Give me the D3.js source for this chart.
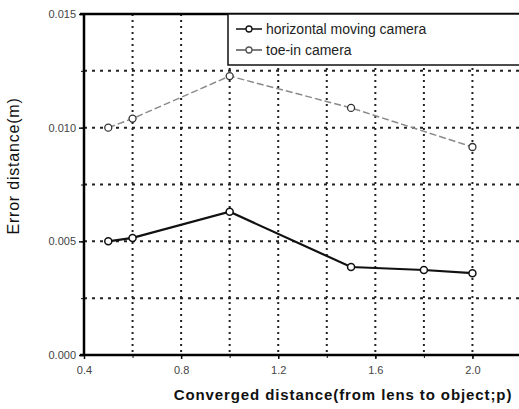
<!DOCTYPE html>
<html>
<head>
<meta charset="utf-8">
<script src="https://cdn.jsdelivr.net/npm/d3@7"></script>
<style>
body { margin: 0; background: #fff; }
text { font-family: "Liberation Sans", Arial, sans-serif; }
</style>
</head>
<body>
<script>
// values
var seriesNames = ["horizontal moving camera", "toe-in camera"];
var movingX = [0.5, 0.6, 1.0, 1.5, 1.8, 2.0];
var movingY = [0.0050, 0.00515, 0.0063, 0.00387, 0.00374, 0.0036];
var toeX = [0.5, 0.6, 1.0, 1.5, 2.0];
var toeY = [0.0100, 0.0104, 0.01227, 0.01087, 0.00915];
var xTicks = [0.4, 0.8, 1.2, 1.6, 2.0];
var xGrid = [0.6, 0.8, 1.0, 1.2, 1.4, 1.6, 1.8, 2.0, 2.2];
var yTicks = [0, 0.005, 0.010, 0.015];
var yGrid = [0.0025, 0.005, 0.0075, 0.010, 0.0125];

var w = 519, h = 409;
var pLeft = 84, pTop = 14, pBottom = 355, pRight = 521;

var svg = d3.select("body")
    .append("svg")
    .attr("width", w)
    .attr("height", h);

var xScale = d3.scaleLinear()
    .domain([0.4, 2.2])
    .range([pLeft, pRight]);

var yScale = d3.scaleLinear()
    .domain([0, 0.015])
    .range([pBottom, pTop]);

// dotted grid
svg.selectAll(".vgrid")
    .data(xGrid)
    .enter()
    .append("line")
    .attr("x1", function(d) { return xScale(d); })
    .attr("x2", function(d) { return xScale(d); })
    .attr("y1", pTop)
    .attr("y2", pBottom)
    .attr("stroke", "#222")
    .attr("stroke-width", 2)
    .attr("stroke-dasharray", "2,4");

svg.selectAll(".hgrid")
    .data(yGrid)
    .enter()
    .append("line")
    .attr("x1", pLeft)
    .attr("x2", pRight)
    .attr("y1", function(d) { return yScale(d); })
    .attr("y2", function(d) { return yScale(d); })
    .attr("stroke", "#222")
    .attr("stroke-width", 2)
    .attr("stroke-dasharray", "3,5");

// axes
var xAxis = d3.axisBottom(xScale)
    .tickValues(xTicks)
    .tickSize(4)
    .tickFormat(d3.format(".1f"));

var yAxis = d3.axisLeft(yScale)
    .tickValues(yTicks)
    .tickSize(5)
    .tickFormat(d3.format(".3f"));

var gx = svg.append("g")
    .attr("transform", "translate(0," + pBottom + ")")
    .call(xAxis);
var gy = svg.append("g")
    .attr("transform", "translate(" + pLeft + ",0)")
    .call(yAxis);

// minor ticks on the grid positions
svg.append("g")
    .attr("transform", "translate(0," + pBottom + ")")
    .call(d3.axisBottom(xScale).tickValues(xGrid).tickSize(3).tickFormat(""))
    .call(function(g) { g.select(".domain").remove(); g.selectAll("line").attr("stroke", "#111"); });
svg.append("g")
    .attr("transform", "translate(" + pLeft + ",0)")
    .call(d3.axisLeft(yScale).tickValues(yGrid).tickSize(3).tickFormat(""))
    .call(function(g) { g.select(".domain").remove(); g.selectAll("line").attr("stroke", "#111"); });

[gx, gy].forEach(function(g) {
    g.select(".domain").remove();
    g.selectAll("line").attr("stroke", "#111").attr("stroke-width", 1.5);
    g.selectAll("text")
        .attr("fill", "#444")
        .style("font-size", "11px")
        .style("font-family", "Liberation Sans, Arial, sans-serif");
});
gx.selectAll("text").attr("dy", "1.05em");

// frame lines
svg.append("line").attr("x1", pLeft).attr("x2", pLeft).attr("y1", pTop).attr("y2", pBottom)
    .attr("stroke", "#000").attr("stroke-width", 2.5);
svg.append("line").attr("x1", pLeft - 4).attr("x2", w).attr("y1", pBottom).attr("y2", pBottom)
    .attr("stroke", "#000").attr("stroke-width", 2.5);
svg.append("line").attr("x1", pLeft - 4).attr("x2", w).attr("y1", pTop).attr("y2", pTop)
    .attr("stroke", "#000").attr("stroke-width", 2.5);

// lines
var movingData = movingX.map(function(d, i) { return [d, movingY[i]]; });
var toeData = toeX.map(function(d, i) { return [d, toeY[i]]; });

var line = d3.line()
    .x(function(d) { return xScale(d[0]); })
    .y(function(d) { return yScale(d[1]); });

svg.append("path")
    .datum(toeData)
    .attr("d", line)
    .attr("fill", "none")
    .attr("stroke", "#8a8a8a")
    .attr("stroke-width", 1.5)
    .attr("stroke-dasharray", "7,3");

svg.append("path")
    .datum(movingData)
    .attr("d", line)
    .attr("fill", "none")
    .attr("stroke", "#111")
    .attr("stroke-width", 2.2);

svg.selectAll(".toeDot")
    .data(toeData)
    .enter()
    .append("circle")
    .attr("cx", function(d) { return xScale(d[0]); })
    .attr("cy", function(d) { return yScale(d[1]); })
    .attr("r", 3.5)
    .attr("fill", "#fff")
    .attr("stroke", "#333")
    .attr("stroke-width", 1.3);

svg.selectAll(".movDot")
    .data(movingData)
    .enter()
    .append("circle")
    .attr("cx", function(d) { return xScale(d[0]); })
    .attr("cy", function(d) { return yScale(d[1]); })
    .attr("r", 3.5)
    .attr("fill", "#fff")
    .attr("stroke", "#111")
    .attr("stroke-width", 1.5);

// legend
var lg = svg.append("g");
lg.append("rect")
    .attr("x", 228)
    .attr("y", pTop)
    .attr("width", 300)
    .attr("height", 51)
    .attr("fill", "#fff")
    .attr("stroke", "#111")
    .attr("stroke-width", 1.5);

var legendRows = [
    {name: seriesNames[0], y: 29, color: "#111"},
    {name: seriesNames[1], y: 50, color: "#555"}
];
legendRows.forEach(function(r) {
    lg.append("line")
        .attr("x1", 236).attr("x2", 262)
        .attr("y1", r.y).attr("y2", r.y)
        .attr("stroke", r.color)
        .attr("stroke-width", 1.5);
    lg.append("circle")
        .attr("cx", 249).attr("cy", r.y)
        .attr("r", 3)
        .attr("fill", "#fff")
        .attr("stroke", r.color)
        .attr("stroke-width", 1.3);
    lg.append("text")
        .attr("x", 266)
        .attr("y", r.y + 5)
        .attr("fill", "#222")
        .style("font-size", "14px")
        .text(r.name);
});

// axis titles
svg.append("text")
    .attr("x", 343)
    .attr("y", 400)
    .attr("text-anchor", "middle")
    .attr("fill", "#111")
    .style("font-size", "15px")
    .style("font-weight", "bold")
    .style("letter-spacing", "0.9px")
    .text("Converged distance(from lens to object;p)");

svg.append("text")
    .attr("transform", "translate(19,166) rotate(-90)")
    .attr("text-anchor", "middle")
    .attr("fill", "#111")
    .style("font-size", "16px")
    .style("letter-spacing", "0.8px")
    .text("Error distance(m)");
</script>
</body>
</html>
